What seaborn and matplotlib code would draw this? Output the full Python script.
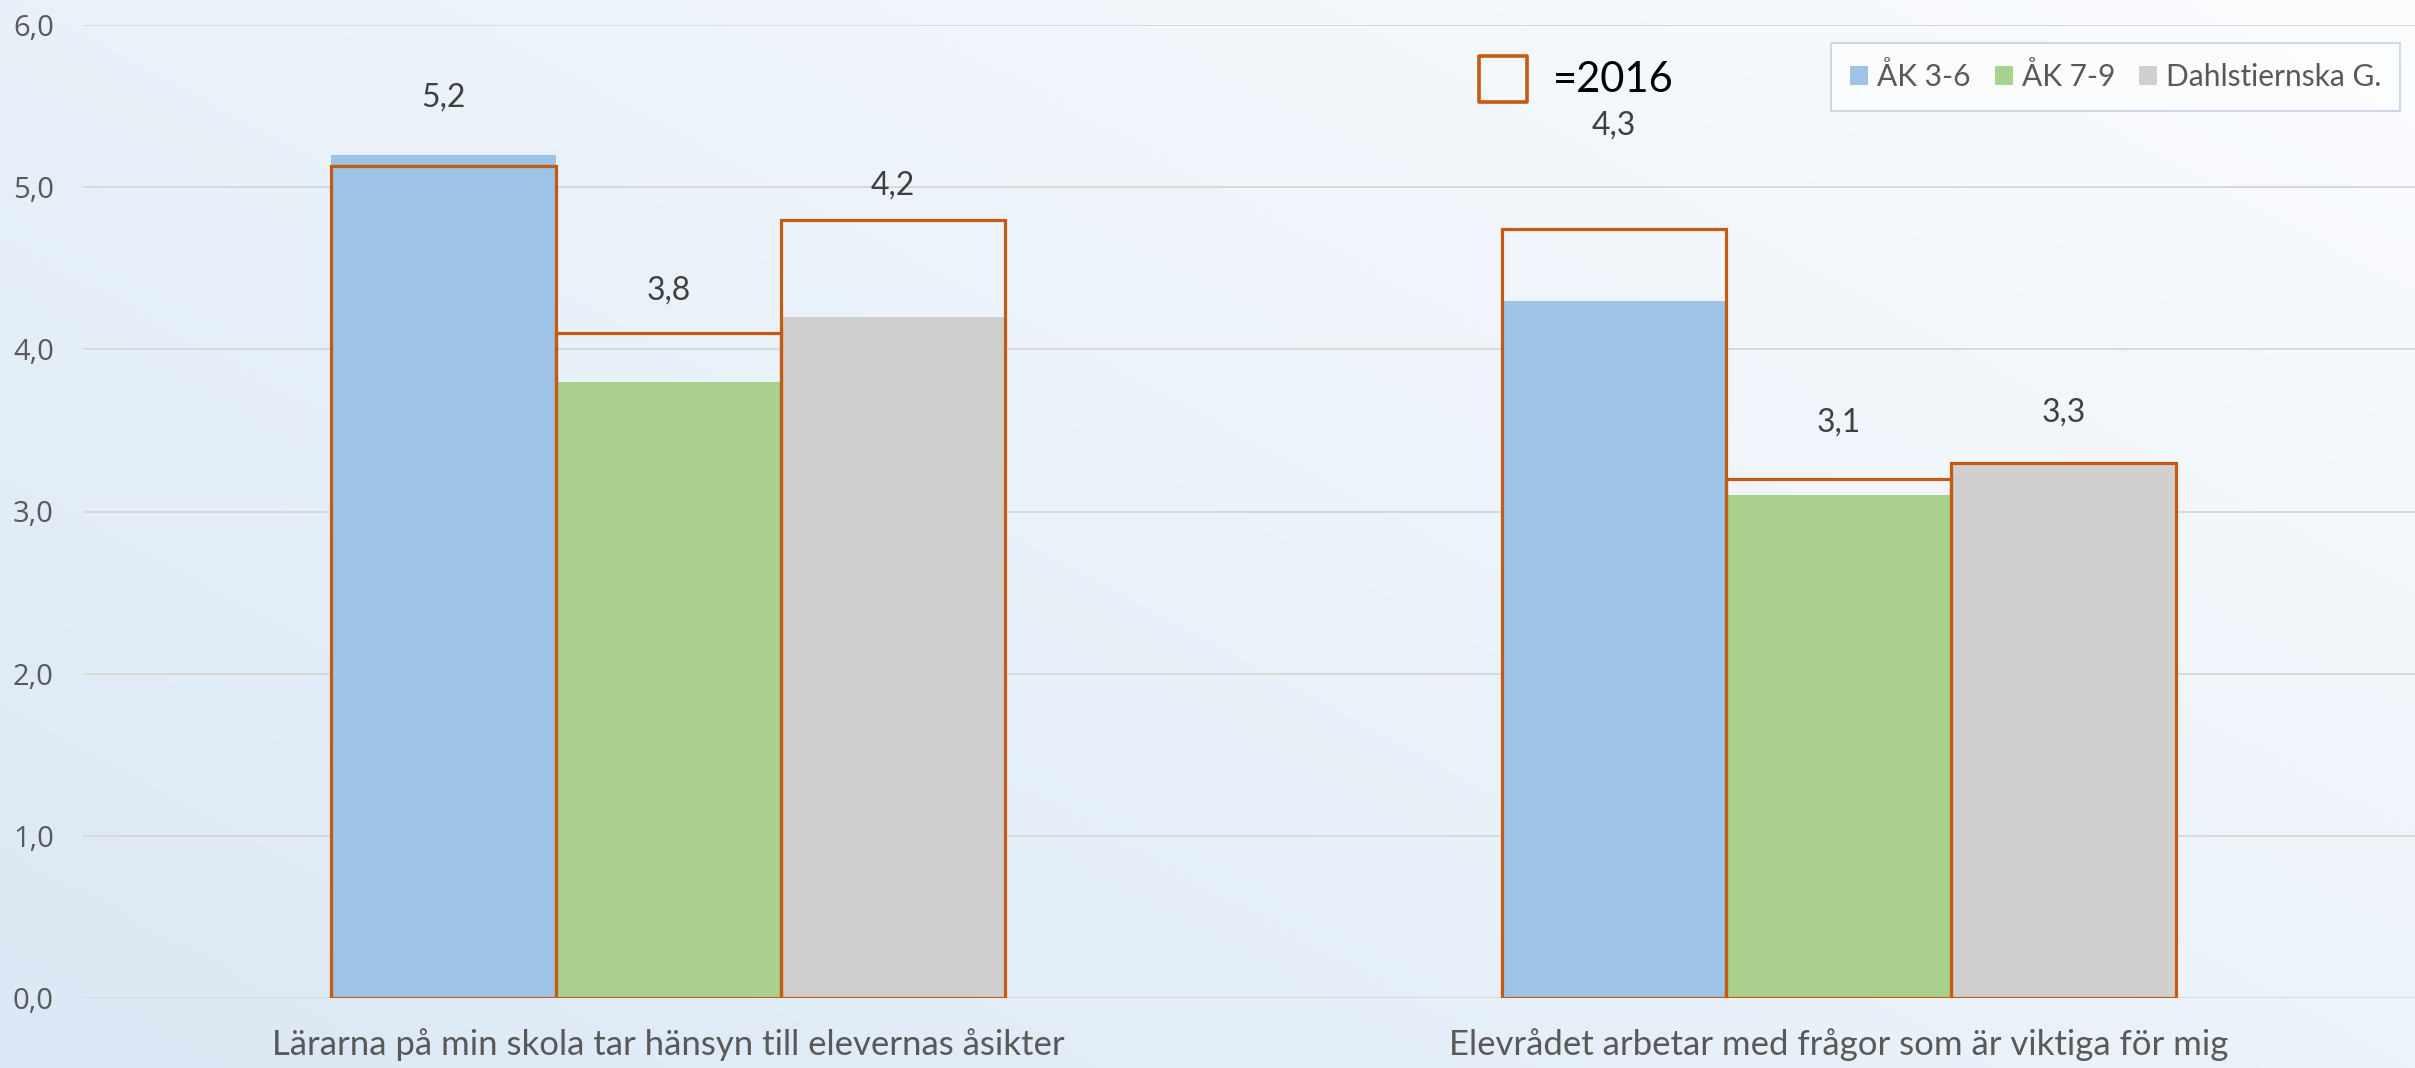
import numpy as np
import pandas as pd
import matplotlib
matplotlib.use("Agg")
import matplotlib.pyplot as plt
from matplotlib.patches import Rectangle
import seaborn as sns

# values
questions = ["Lärarna på min skola tar hänsyn till elevernas åsikter",
             "Elevrådet arbetar med frågor som är viktiga för mig"]
groups = ["ÅK 3-6", "ÅK 7-9", "Dahlstiernska G."]

# current year (filled bars)
ak36 = [5.2, 4.3]
ak79 = [3.8, 3.1]
dahl = [4.2, 3.3]

# 2016 (orange outlines)
ak36_2016 = [5.13, 4.74]
ak79_2016 = [4.1, 3.2]
dahl_2016 = [4.8, 3.3]

# how far above the taller of the two bars each value label sits (manual placement in the original)
label_lift = {"ÅK 3-6": [0.35, 0.64], "ÅK 7-9": [0.26, 0.35], "Dahlstiernska G.": [0.21, 0.31]}

colors = {"ÅK 3-6": "#9DC3E6", "ÅK 7-9": "#A9D18E", "Dahlstiernska G.": "#D0CECE"}
orange = "#C55A11"

now = pd.DataFrame({"question": questions * 3,
                    "group": np.repeat(groups, 2),
                    "value": ak36 + ak79 + dahl})
prev = pd.DataFrame({"question": questions * 3,
                     "group": np.repeat(groups, 2),
                     "value": ak36_2016 + ak79_2016 + dahl_2016})

sns.set_style("white")
plt.rcParams["font.family"] = ["Lato", "DejaVu Sans"]

W, H = 2415, 1068
fig = plt.figure(figsize=(W / 100, H / 100), dpi=100)

# diagonal background gradient, light blue bottom-left -> almost white top-right
bg = fig.add_axes([0, 0, 1, 1], zorder=-10)
xx, yy = np.meshgrid(np.linspace(0, 1, 300), np.linspace(1, 0, 150))
s = np.clip((xx * 0.55 + yy * 0.45), 0, 1)[..., None]
c0 = np.array([0xDA, 0xE8, 0xF5]) / 255
c1 = np.array([0xFB, 0xFC, 0xFE]) / 255
bg.imshow(c0 + (c1 - c0) * s, aspect="auto", extent=[0, 1, 0, 1], interpolation="bilinear")
bg.set_axis_off()

ax = fig.add_axes([83 / W, 1 - 998 / H, 2341 / W, (998 - 25) / H])
ax.patch.set_alpha(0)

sns.barplot(data=now, x="question", y="value", hue="group", order=questions, hue_order=groups,
            palette=colors, saturation=1, width=0.576, linewidth=0, errorbar=None,
            legend=False, ax=ax)
n_fill = len(ax.containers)
sns.barplot(data=prev, x="question", y="value", hue="group", order=questions, hue_order=groups,
            palette={g: orange for g in groups}, saturation=1, fill=False, width=0.576,
            linewidth=2.3, errorbar=None, legend=False, ax=ax)
for cont in ax.containers[n_fill:]:
    for bar in cont:
        bar.set_zorder(3)
        bar.set_joinstyle("miter")

# value labels
for g, cont_now, cont_prev in zip(groups, ax.containers[:n_fill], ax.containers[n_fill:]):
    for i, (b_now, b_prev) in enumerate(zip(cont_now, cont_prev)):
        top = max(b_now.get_height(), b_prev.get_height())
        ax.text(b_now.get_x() + b_now.get_width() / 2, top + label_lift[g][i],
                f"{b_now.get_height():.1f}".replace(".", ","),
                ha="center", va="center", fontsize=23, color="#404040")

ax.set_ylim(0, 6)
ax.set_xlim(-0.5, 1.5)
ax.set_yticks(np.arange(0, 7, 1))
ax.set_yticklabels([f"{v:.1f}".replace(".", ",") for v in np.arange(0, 7, 1)],
                   fontsize=21, color="#595959", family=["Open Sans", "DejaVu Sans"])
for lab in ax.get_xticklabels():
    lab.set_fontsize(25)
    lab.set_color("#595959")
ax.tick_params(axis="y", length=0, pad=21)
ax.tick_params(axis="x", length=0, pad=22)
ax.set_xlabel("")
ax.set_ylabel("")
ax.yaxis.grid(True, color="#D9D9D9", linewidth=1.4)
ax.set_axisbelow(True)
sns.despine(ax=ax, left=True, bottom=True)

# legend box for the three groups, running off the right edge like the original
handles = [cont.patches[0] for cont in ax.containers[:n_fill]]
leg = ax.legend(handles, groups, loc="upper left", bbox_to_anchor=(1831 / W, 1 - 43 / H),
                bbox_transform=fig.transFigure, borderaxespad=0, ncol=3, fontsize=21.5,
                frameon=True, fancybox=False, edgecolor="#B4C0D8", facecolor="white",
                framealpha=0.6, handlelength=0.6, handleheight=0.6, handletextpad=0.3,
                columnspacing=0.8, borderpad=0.65, labelcolor="#595959")
leg.get_frame().set_linewidth(1.5)

# "=2016" key
fig.patches.append(Rectangle((1479 / W, 1 - 102 / H), 48 / W, 46 / H, transform=fig.transFigure,
                             fill=False, edgecolor=orange, linewidth=2.6, joinstyle="round"))
fig.text(1553 / W, 1 - 80 / H, "=2016", fontsize=30, color="black", va="center", ha="left")

fig.savefig("out.png", dpi=100)
